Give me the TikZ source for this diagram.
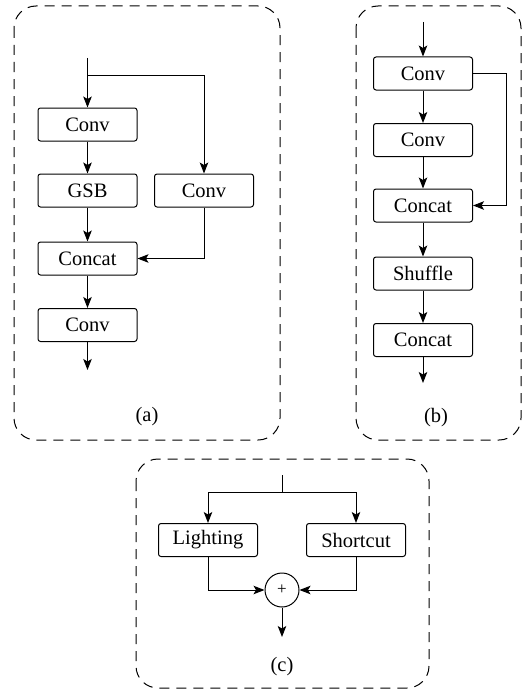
\documentclass[tikz,border=0pt]{standalone}
\usepackage{fontspec}
\setmainfont{Liberation Serif}
\usetikzlibrary{arrows.meta}
\begin{document}
\begin{tikzpicture}[x=1pt,y=1pt,
  blk/.style={draw, rounded corners=2.5pt, line width=1pt, minimum width=99pt, minimum height=33pt, inner sep=0pt, font=\fontsize{20.5}{24}\selectfont},
  arr/.style={line width=1pt, -{Stealth[length=11pt,width=8.5pt,inset=2.5pt]}},
  ln/.style={line width=1pt},
  frame/.style={dashed, dash pattern=on 10pt off 7pt, line width=1pt, rounded corners=22pt},
  sublabel/.style={font=\fontsize{20.5}{24}\selectfont}]
\useasboundingbox (0,0) rectangle (523,-693);

% panel frames
\draw[frame] (14,-6) rectangle (280,-440);
\draw[frame] (356,-6) rectangle (521,-440);
\draw[frame] (136,-459) rectangle (429,-688);

% (a)
\node[blk] (a1) at (87.5,-124.5) {Conv};
\node[blk] (a2) at (87.5,-190.5) {GSB};
\node[blk] (a4) at (204,-190.5) {Conv};
\node[blk] (a3) at (87.5,-258.5) {Concat};
\node[blk] (a5) at (87.5,-325) {Conv};
\coordinate (ain) at (87.5,-58);
\coordinate (asplit) at (87.5,-75);
\coordinate (aout) at (87.5,-370);
\draw[arr] (ain) -- (a1);
\draw[arr] (asplit) -| (a4);
\draw[arr] (a1) -- (a2);
\draw[arr] (a2) -- (a3);
\draw[arr] (a4) |- (a3);
\draw[arr] (a3) -- (a5);
\draw[arr] (a5) -- (aout);
\node[sublabel] (alab) at (147,-417) {(a)};

% (b)
\node[blk] (b1) at (423,-73.5) {Conv};
\node[blk] (b2) at (423,-140) {Conv};
\node[blk] (b3) at (423,-205.5) {Concat};
\node[blk] (b4) at (423,-273.5) {Shuffle};
\node[blk] (b5) at (423,-340) {Concat};
\coordinate (bin) at (423,-22);
\coordinate (bturn) at (506,-73.5);
\coordinate (bout) at (423,-383);
\draw[arr] (bin) -- (b1);
\draw[arr] (b1) -- (b2);
\draw[arr] (b2) -- (b3);
\draw[arr] (b1) -- (bturn) |- (b3);
\draw[arr] (b3) -- (b4);
\draw[arr] (b4) -- (b5);
\draw[arr] (b5) -- (bout);
\node[sublabel] (blab) at (436,-418) {(b)};

% (c)
\node[blk] (c1) at (208,-540) {Lighting};
\node[blk] (c2) at (356,-540) {Shortcut};
\node[draw, circle, line width=1pt, minimum size=34pt, inner sep=0pt, font=\fontsize{17}{19}\selectfont] (cadd) at (282,-590) {+};
\coordinate (cin) at (282,-475);
\coordinate (csplit) at (282,-492);
\coordinate (cout) at (282,-637);
\draw[ln] (cin) -- (csplit);
\draw[arr] (csplit) -| (c1);
\draw[arr] (csplit) -| (c2);
\draw[arr] (c1) |- (cadd);
\draw[arr] (c2) |- (cadd);
\draw[arr] (cadd) -- (cout);
\node[sublabel] (clab) at (282,-667) {(c)};
\end{tikzpicture}
\end{document}
